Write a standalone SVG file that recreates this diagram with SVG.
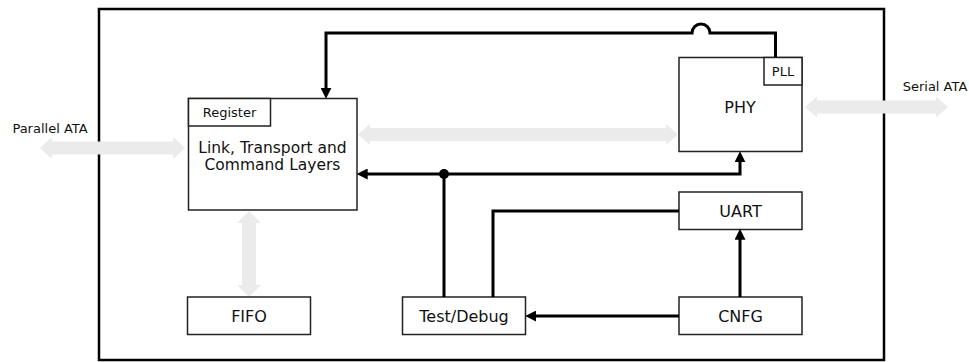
<svg xmlns="http://www.w3.org/2000/svg" width="969" height="362" viewBox="0 0 969 362">
<style>
text{font-family:"DejaVu Sans",Verdana,sans-serif;fill:#111;text-anchor:middle}
.box{fill:#fff;stroke:#222;stroke-width:1.5}
.big{font-size:16px}
.mid{font-size:15.5px}
.small{font-size:13px}
.wire{fill:none;stroke:#000;stroke-width:3}
.bus{fill:#ebebeb;stroke:none}
</style>
<defs>
<marker id="ah" markerUnits="userSpaceOnUse" markerWidth="11" markerHeight="11" viewBox="0 0 10 10" refX="2" refY="5" orient="auto">
<path d="M0,0 L10,5 L0,10 z" fill="#000"/>
</marker>
</defs>
<rect x="0" y="0" width="969" height="362" fill="#fff"/>
<rect id="frame" x="99" y="9" width="785" height="351" fill="none" stroke="#000" stroke-width="2.5"/>
<g id="buses">
<polygon class="bus" points="40,148 52,137 52,141.5 173,141.5 173,137 185,148 173,159 173,154.5 52,154.5 52,159"/>
<polygon class="bus" points="358,134.5 370,124 370,128 666,128 666,124 678,134.5 666,145 666,141 370,141 370,145"/>
<polygon class="bus" points="805,107 817,96.5 817,100.5 936,100.5 936,96.5 948,107 936,117.5 936,113.5 817,113.5 817,117.5"/>
<polygon class="bus" points="249,211 261,223 256,223 256,285 261,285 249,297 237,285 242,285 242,223 237,223"/>
</g>
<g id="link">
<rect class="box" x="188.5" y="98.5" width="168.5" height="111.5"/>
<rect class="box" x="188.5" y="98.5" width="82" height="27.5"/>
<text class="small" x="229.5" y="117">Register</text>
<text class="mid" x="272.5" y="153">Link, Transport and</text>
<text class="mid" x="272.5" y="170">Command Layers</text>
</g>
<g id="phy">
<rect class="box" x="679" y="57.5" width="123" height="94"/>
<rect class="box" x="764" y="57.5" width="38" height="27.5"/>
<text class="small" x="783" y="76">PLL</text>
<text class="big" x="740" y="113">PHY</text>
</g>
<g id="uart">
<rect class="box" x="679" y="192" width="123" height="37.5"/>
<text class="big" x="740.5" y="217">UART</text>
</g>
<g id="cnfg">
<rect class="box" x="679" y="297" width="123" height="37.5"/>
<text class="big" x="740.5" y="322">CNFG</text>
</g>
<g id="fifo">
<rect class="box" x="187.5" y="297" width="123" height="37.5"/>
<text class="big" x="249" y="322">FIFO</text>
</g>
<g id="testdebug">
<rect class="box" x="402.5" y="297" width="123" height="37.5"/>
<text class="big" x="464" y="322">Test/Debug</text>
</g>
<g id="labels">
<text class="small" x="50" y="133">Parallel ATA</text>
<text class="small" x="935" y="91">Serial ATA</text>
</g>
<g id="connectors">
<path class="wire" d="M775.5,57 V33 H710 A9,9 0 0 0 692,33 H326 V90" marker-end="url(#ah)"/>
<path class="wire" d="M444,174 H365.5" marker-end="url(#ah)"/>
<path class="wire" d="M444,174 H740 V160" marker-end="url(#ah)"/>
<path class="wire" d="M444,174 V297"/>
<path class="wire" d="M493,297 V211 H679"/>
<path class="wire" d="M740,297 V237.5" marker-end="url(#ah)"/>
<path class="wire" d="M679,316 H534" marker-end="url(#ah)"/>
<circle cx="444" cy="174" r="5" fill="#000"/>
</g>
</svg>
